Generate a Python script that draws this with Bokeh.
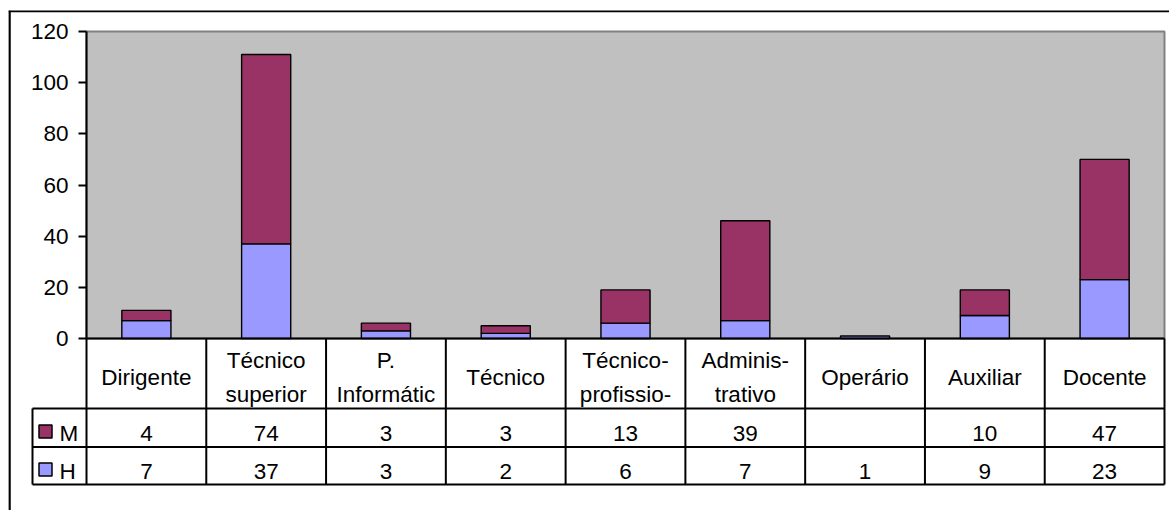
import numpy as np
from bokeh.plotting import figure
from bokeh.models import Range1d, LinearAxis, FixedTicker, Span, ColumnDataSource
from bokeh.core.properties import value
from bokeh.embed import file_html
from bokeh.resources import INLINE

# ---- data ----
categories = ["Dirigente", "Técnico\nsuperior", "P.\nInformátic", "Técnico",
              "Técnico-\nprofissio-", "Adminis-\ntrativo", "Operário", "Auxiliar", "Docente"]
series_names = ["M", "H"]
m_values = [4, 74, 3, 3, 13, 39, None, 10, 47]   # Operário: no value
h_values = [7, 37, 3, 2, 6, 7, 1, 9, 23]
y_ticks = [0, 20, 40, 60, 80, 100, 120]

# ---- style ----
COL_M = "#993366"
COL_H = "#9999FF"
FONT = "Liberation Sans"
FS = "22.5px"

# ---- layout (figure pixels) ----
WIDTH, HEIGHT = 1169, 510
FL, FR, FT, FB = 8, WIDTH, 10, HEIGHT      # frame edges
PL, PR, P0, PTOP = 86, 1164, 338, 31       # plot area
n = len(categories)
ux = (PR - PL) / n
uy = (P0 - PTOP) / max(y_ticks)


def X(px):
    return (px - PL) / ux


def Y(py):
    return (P0 - py) / uy


p = figure(width=WIDTH, height=HEIGHT,
           x_range=Range1d(X(FL), X(FR)), y_range=Range1d(Y(FB), Y(FT)),
           x_axis_type=None, y_axis_type=None,
           output_backend="svg", toolbar_location=None,
           min_border_left=FL, min_border_right=0, min_border_top=FT, min_border_bottom=0,
           background_fill_color="white", border_fill_color="white",
           outline_line_color=None)

# plot area
p.quad(left=0, right=n, bottom=0, top=max(y_ticks),
       fill_color="#C0C0C0", line_color="#808080", line_width=2)

# stacked bars
xs = np.arange(n) + 0.5
m_num = [np.nan if v is None else v for v in m_values]
src = ColumnDataSource(dict(x=xs, H=h_values, M=m_num))
p.vbar_stack(["H", "M"], x="x", width=0.41, source=src,
             fill_color=[COL_H, COL_M], line_color="black", line_width=1.4)

# data table grid
row_cat, row_m, row_h = Y(408), Y(446.5), Y(484)
leg_left = X(32)
hx0 = [0, leg_left, leg_left, leg_left]
hx1 = [n, n, n, n]
hy = [0, row_cat, row_m, row_h]
p.segment(x0=hx0, y0=hy, x1=hx1, y1=hy, line_color="black", line_width=2)
vx = list(np.arange(n + 1)) + [leg_left]
vy0 = [0] * (n + 1) + [row_cat]
vy1 = [row_h] * (n + 2)
p.segment(x0=vx, y0=vy0, x1=vx, y1=vy1, line_color="black", line_width=2)

# category labels
p.text(x=xs, y=[Y(377)] * n, text=categories, text_align="center", text_baseline="middle",
       text_font=value(FONT), text_font_size=FS, text_line_height=1.36, text_color="black")

# value rows
m_labels = ["" if v is None else str(v) for v in m_values]
h_labels = ["" if v is None else str(v) for v in h_values]
p.text(x=xs, y=[Y(433)] * n, text=m_labels, text_align="center", text_baseline="middle",
       text_font=value(FONT), text_font_size=FS, text_color="black")
p.text(x=xs, y=[Y(471)] * n, text=h_labels, text_align="center", text_baseline="middle",
       text_font=value(FONT), text_font_size=FS, text_color="black")

# legend keys in table
leg = ColumnDataSource(dict(x=[X(45)] * 2, y=[Y(431), Y(469)], c=[COL_M, COL_H],
                            tx=[X(59)] * 2, ty=[Y(433), Y(471)], t=series_names))
p.scatter(x="x", y="y", marker="square", size=13, fill_color="c", line_color="black",
          line_width=1.5, source=leg)
p.text(x="tx", y="ty", text="t", text_align="left", text_baseline="middle",
       text_font=value(FONT), text_font_size=FS, text_color="black", source=leg)

# y axis at the plot-area edge
yaxis = LinearAxis(fixed_location=0, bounds=(0, max(y_ticks)),
                   ticker=FixedTicker(ticks=y_ticks),
                   axis_line_color="black", axis_line_width=2,
                   major_tick_line_color="black", major_tick_line_width=2,
                   major_tick_out=8, major_tick_in=0,
                   minor_tick_out=0, minor_tick_in=0,
                   major_label_standoff=10,
                   major_label_text_font=FONT, major_label_text_font_size=FS,
                   major_label_text_color="black")
p.add_layout(yaxis, "left")

# outer chart border (left and top)
p.add_layout(Span(location=X(FL + 1), dimension="height", line_color="black", line_width=2.5))
p.add_layout(Span(location=Y(FT + 0.5), dimension="width", line_color="black", line_width=2.5))

open("out.html", "w").write(file_html(p, INLINE))
